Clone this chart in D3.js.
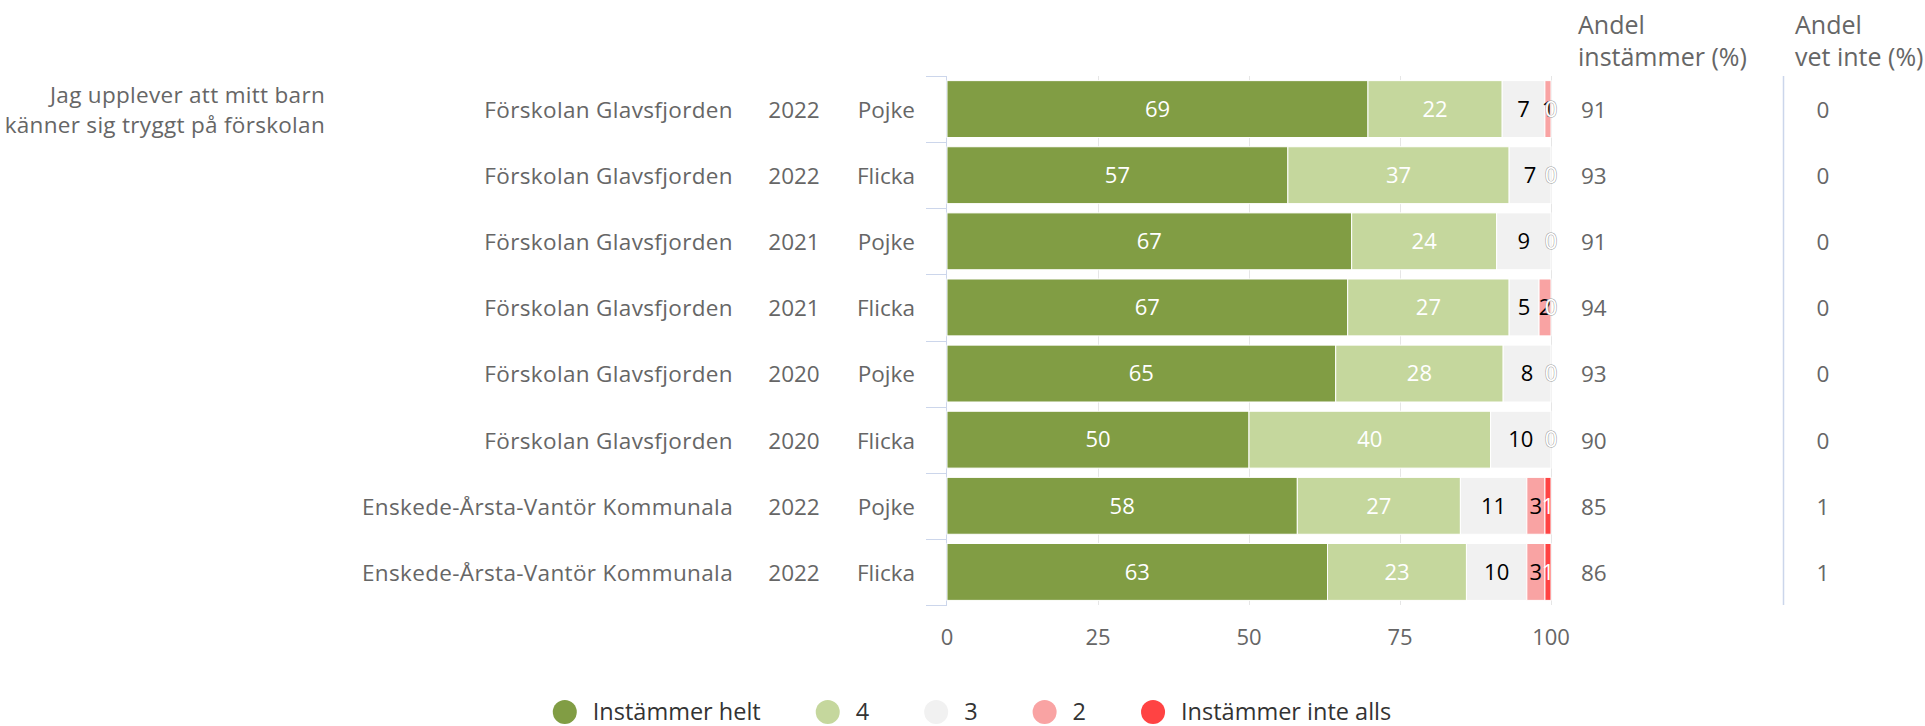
<!DOCTYPE html>
<html>
<head>
<meta charset="utf-8">
<script src="https://cdn.jsdelivr.net/npm/d3@7"></script>
<style>
  html, body { margin: 0; padding: 0; background: #fff; }
  svg { display: block; font-family: "Open Sans", "Noto Sans", sans-serif; }
</style>
</head>
<body>
<svg id="chart" width="1925" height="726"></svg>
<script>
// ---- Data ----
const questionLines = ["Jag upplever att mitt barn", "känner sig tryggt på förskolan"];
const units = ["Förskolan Glavsfjorden", "Förskolan Glavsfjorden", "Förskolan Glavsfjorden", "Förskolan Glavsfjorden",
               "Förskolan Glavsfjorden", "Förskolan Glavsfjorden", "Enskede-Årsta-Vantör Kommunala", "Enskede-Årsta-Vantör Kommunala"];
const years = ["2022", "2022", "2021", "2021", "2020", "2020", "2022", "2022"];
const genders = ["Pojke", "Flicka", "Pojke", "Flicka", "Pojke", "Flicka", "Pojke", "Flicka"];

const seriesNames = ["Instämmer helt", "4", "3", "2", "Instämmer inte alls"];
const instammerHelt = [69, 57, 67, 67, 65, 50, 58, 63];
const svar4 = [22, 37, 24, 27, 28, 40, 27, 23];
const svar3 = [7, 7, 9, 5, 8, 10, 11, 10];
const svar2 = [1, 0, 0, 2, 0, 0, 3, 3];
const instammerInteAlls = [0, 0, 0, 0, 0, 0, 1, 1];

const andelInstammer = [91, 93, 91, 94, 93, 90, 85, 86];
const andelVetInte = [0, 0, 0, 0, 0, 0, 1, 1];
const xTicks = [0, 25, 50, 75, 100];

const seriesColors = ["#819d44", "#c5d79d", "#f1f1f1", "#f9a3a3", "#ff4343"];
const labelColors = ["#ffffff", "#ffffff", "#000000", "#000000", "#ffffff"];

// ---- Build rows (percent stacking) ----
const seriesValues = [instammerHelt, svar4, svar3, svar2, instammerInteAlls];
const rowIds = d3.range(units.length);
const table = rowIds.map(i => {
  const o = { id: i };
  seriesNames.forEach((s, k) => o[s] = seriesValues[k][i]);
  return o;
});
const stacked = d3.stack().keys(seriesNames).offset(d3.stackOffsetExpand)(table);

// ---- Layout ----
const svg = d3.select("#chart");
const plotLeft = 947, plotRight = 1551, plotTop = 76, plotBottom = 605;
const x = d3.scaleLinear().domain([0, 1]).range([plotLeft, plotRight]);
const xAxisScale = d3.scaleLinear().domain([0, 100]).range([plotLeft, plotRight]);
const y = d3.scaleBand().domain(rowIds).range([plotTop, plotBottom]).paddingInner(0.14).paddingOuter(0.07);
const yBand = d3.scaleBand().domain(rowIds).range([plotTop, plotBottom]);

const labelSize = 22.5;
const textGray = "#666666";

// gridlines
svg.append("g").selectAll("line").data(xTicks.slice(1)).join("line")
  .attr("x1", d => xAxisScale(d) + 0.5).attr("x2", d => xAxisScale(d) + 0.5)
  .attr("y1", plotTop).attr("y2", plotBottom)
  .attr("stroke", "#e6e6e6").attr("stroke-width", 1);

// left axis line + band ticks
const axisG = svg.append("g");
axisG.append("line")
  .attr("x1", plotLeft - 0.5).attr("x2", plotLeft - 0.5)
  .attr("y1", plotTop).attr("y2", plotBottom)
  .attr("stroke", "#ccd6eb");
const bandEdges = rowIds.map(i => yBand(i)).concat([plotBottom]);
axisG.selectAll("line.tick").data(bandEdges).join("line").attr("class", "tick")
  .attr("x1", plotLeft - 21).attr("x2", plotLeft)
  .attr("y1", d => Math.round(d) + 0.5).attr("y2", d => Math.round(d) + 0.5)
  .attr("stroke", "#ccd6eb");

// bars
const barsG = svg.append("g");
stacked.forEach((layer, k) => {
  barsG.append("g").selectAll("rect").data(layer).join("rect")
    .attr("x", d => x(d[0]))
    .attr("y", (d, i) => y(i))
    .attr("width", d => Math.max(0, x(d[1]) - x(d[0])))
    .attr("height", y.bandwidth())
    .attr("fill", seriesColors[k])
    .attr("stroke", "#ffffff").attr("stroke-width", 1);
});

// data labels
const labG = svg.append("g");
stacked.forEach((layer, k) => {
  const name = seriesNames[k];
  const isLast = k === seriesNames.length - 1;
  layer.forEach((d, i) => {
    const v = d.data[name];
    if (v === 0 && !isLast) return;
    const cx = (x(d[0]) + x(d[1])) / 2;
    const t = labG.append("text")
      .attr("x", cx).attr("y", y(i) + y.bandwidth() / 2)
      .attr("dy", "0.35em").attr("text-anchor", "middle")
      .attr("font-size", 22)
      .attr("fill", labelColors[k])
      .text(v);
    if (v === 0) {
      t.attr("stroke", "#9a9a9a").attr("stroke-width", 1).attr("paint-order", "stroke").attr("fill", "#ffffff");
    }
  });
});

// x axis labels
svg.append("g").selectAll("text").data(xTicks).join("text")
  .attr("x", d => xAxisScale(d)).attr("y", 637).attr("dy", "0.35em")
  .attr("text-anchor", "middle").attr("font-size", 22).attr("fill", textGray)
  .text(d => d);

// row labels
const rowG = svg.append("g").attr("font-size", labelSize).attr("fill", textGray);
rowIds.forEach(i => {
  const cy = yBand(i) + yBand.bandwidth() / 2 + 1;
  rowG.append("text").attr("x", 733).attr("y", cy).attr("dy", "0.35em").attr("text-anchor", "end")
    .attr("letter-spacing", "0.35px").text(units[i]);
  rowG.append("text").attr("x", 794).attr("y", cy).attr("dy", "0.35em").attr("text-anchor", "middle").text(years[i]);
  rowG.append("text").attr("x", 915).attr("y", cy).attr("dy", "0.35em").attr("text-anchor", "end").text(genders[i]);
  rowG.append("text").attr("x", 1581).attr("y", cy).attr("dy", "0.35em").attr("text-anchor", "start").text(andelInstammer[i]);
  rowG.append("text").attr("x", 1823).attr("y", cy).attr("dy", "0.35em").attr("text-anchor", "middle").text(andelVetInte[i]);
});

// question label
const qG = svg.append("g").attr("font-size", 22.5).attr("fill", textGray).attr("letter-spacing", "0.3px");
questionLines.forEach((l, j) => {
  qG.append("text").attr("x", 325).attr("y", 95 + j * 30).attr("dy", "0.35em").attr("text-anchor", "end").text(l);
});

// column headers
const hG = svg.append("g").attr("font-size", 25).attr("fill", textGray);
[["Andel", "instämmer (%)", 1578], ["Andel", "vet inte (%)", 1795]].forEach(h => {
  hG.append("text").attr("x", h[2]).attr("y", 25).attr("dy", "0.35em").text(h[0]);
  hG.append("text").attr("x", h[2]).attr("y", 57).attr("dy", "0.35em").text(h[1]);
});
// separator line
svg.append("line").attr("x1", 1783.5).attr("x2", 1783.5).attr("y1", plotTop).attr("y2", plotBottom)
  .attr("stroke", "#ccd6eb").attr("stroke-width", 1.5);

// legend
const legG = svg.append("g").attr("font-size", 23.5);
let lx = 0;
const gap = 55;
seriesNames.forEach((n, k) => {
  const g = legG.append("g");
  g.append("circle").attr("cx", 12).attr("cy", 0).attr("r", 12).attr("fill", seriesColors[k]);
  const t = g.append("text").attr("x", 40).attr("y", 0).attr("dy", "0.35em").attr("fill", "#333333").text(n);
  const w = 40 + t.node().getComputedTextLength();
  g.attr("transform", `translate(${lx},712)`);
  lx += w + gap;
});
const totalW = lx - gap;
legG.attr("transform", `translate(${972 - totalW / 2},0)`);
</script>
</body>
</html>
